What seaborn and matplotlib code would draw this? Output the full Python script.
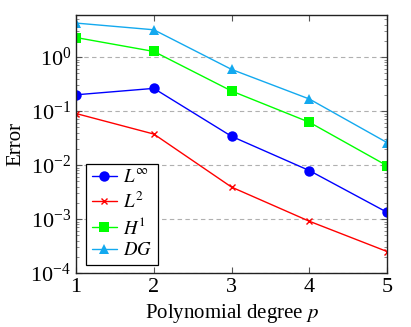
import numpy as np
import pandas as pd
import matplotlib
matplotlib.use("Agg")
import matplotlib.pyplot as plt
import seaborn as sns
from matplotlib.ticker import LogLocator, LogFormatterSciNotation, NullFormatter

degrees = [1, 2, 3, 4, 5]
err_linf = [0.20, 0.263, 0.034, 0.0079, 0.00133]
err_l2 = [0.090, 0.0375, 0.0039, 0.00091, 0.00025]
err_h1 = [2.3, 1.27, 0.235, 0.062, 0.0097]
err_dg = [4.26, 3.2, 0.59, 0.167, 0.026]
labels = [r"$L^{\infty}$", r"$L^{2}$", r"$H^{1}$", r"$DG$"]
colors = ["#0000ff", "#ff0000", "#00ff00", "#13a9ef"]
markers = ["o", "x", "s", "^"]
msizes = [7.5, 5, 7, 6.5]

sns.set_style("ticks")
plt.rcParams["font.family"] = "serif"
plt.rcParams["font.serif"] = ["Liberation Serif", "STIXGeneral", "DejaVu Serif"]
plt.rcParams["mathtext.fontset"] = "stix"
plt.rcParams["text.color"] = "black"
plt.rcParams["axes.labelcolor"] = "black"
plt.rcParams["xtick.labelcolor"] = "black"
plt.rcParams["ytick.labelcolor"] = "black"

fig = plt.figure(figsize=(4.11, 3.27), dpi=100)
ax = fig.add_axes([0.185, 0.165, 0.757, 0.789])

series = [err_linf, err_l2, err_h1, err_dg]
for vals, lab, c, m, ms in zip(series, labels, colors, markers, msizes):
    df = pd.DataFrame({"p": degrees, "err": vals})
    sns.lineplot(data=df, x="p", y="err", ax=ax, color=c, marker=m,
                 markersize=ms, markeredgecolor=c, markeredgewidth=1.0 if m == "x" else 0,
                 linewidth=1.0, label=lab)

ax.set_yscale("log")
ax.set_xlim(1, 5)
ax.set_ylim(1e-4, 6.0)
ax.set_xticks(degrees)
ax.yaxis.set_major_locator(LogLocator(base=10, numticks=10))
ax.yaxis.set_major_formatter(LogFormatterSciNotation())
ax.yaxis.set_minor_locator(LogLocator(base=10, subs=np.arange(2, 10), numticks=20))
ax.yaxis.set_minor_formatter(NullFormatter())
ax.grid(axis="y", which="major", linestyle=(0, (4, 3)), color="#b0b0b0", linewidth=0.8)
ax.tick_params(which="both", direction="in", top=True, right=True, labelsize=16)
ax.tick_params(which="major", length=4, color="#555555")
ax.tick_params(which="minor", length=2.5, color="#777777")
for s in ax.spines.values():
    s.set_color("#222222")
    s.set_linewidth(1.0)

ax.set_xlabel(r"Polynomial degree $p$", fontsize=15)
ax.set_ylabel("Error", fontsize=15)

leg = ax.legend(loc="lower left", fontsize=13.5, frameon=True, fancybox=False,
                edgecolor="black", framealpha=1, borderpad=0.3, labelspacing=0.25,
                handlelength=1.35, handletextpad=0.35, borderaxespad=0,
                bbox_to_anchor=(0.032, 0.031))
leg.get_frame().set_linewidth(0.9)

fig.savefig("out.png", dpi=100)
